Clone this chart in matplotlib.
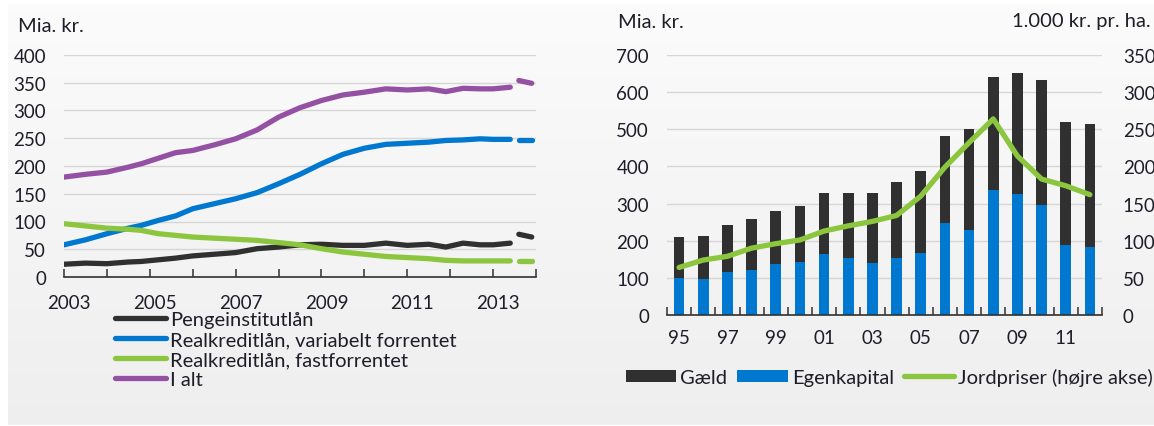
import matplotlib.pyplot as plt
import numpy as np

plt.rcParams['font.family'] = ['Lato', 'DejaVu Sans']

# left panel: loans, Mia. kr.
yr = [2003.0, 2003.5, 2004.0, 2004.5, 2004.8, 2005.2, 2005.6, 2006.0, 2006.5, 2007.0,
      2007.5, 2008.0, 2008.5, 2009.0, 2009.5, 2010.0, 2010.5, 2011.0, 2011.5, 2011.9,
      2012.3, 2012.7, 2013.0, 2013.4]
penge = [23, 25, 24, 27, 28, 31, 34, 38, 41, 44,
         51, 54, 58, 59, 57, 57, 61, 57, 59, 54,
         61, 58, 58, 61]
var = [58, 67, 78, 88, 93, 102, 110, 123, 132, 141,
       152, 168, 185, 204, 221, 232, 239, 241, 243, 246,
       247, 249, 248, 248]
fast = [96, 92, 88, 86, 84, 78, 75, 72, 70, 68,
        66, 62, 58, 51, 45, 41, 37, 35, 33, 30,
        29, 29, 29, 29]
ialt = [180, 185, 189, 198, 204, 214, 224, 228, 238, 249,
        265, 288, 305, 318, 328, 333, 339, 337, 339, 334,
        340, 339, 339, 342]
# end-of-period points shown apart (dashed stub)
yr_end = [2013.6, 2013.9]
penge_end = [77, 72]
var_end = [247, 247]
fast_end = [29, 29]
ialt_end = [354, 349]

# right panel: farm balance, Mia. kr. and land prices 1.000 kr. pr. ha.
aar = ['95', '96', '97', '98', '99', '00', '01', '02', '03',
       '04', '05', '06', '07', '08', '09', '10', '11', '12']
total = [211, 214, 243, 258, 279, 293, 329, 329, 329,
         357, 389, 483, 501, 640, 651, 634, 519, 515]
egenkapital = [100, 97, 115, 122, 136, 143, 164, 153, 140,
               153, 168, 247, 229, 336, 325, 297, 189, 182]
gaeld = [t - e for t, e in zip(total, egenkapital)]
jordpriser = [64, 74, 79, 90, 96, 101, 113, 120, 126,
              134, 160, 199, 232, 264, 214, 183, 174, 162]

c_black = '#303030'
c_blue = '#0078d0'
c_green = '#8cc63f'
c_purple = '#9450a2'
c_grid = '#d6d6d6'
c_text = '#1e1e28'
fs = 14.5
fs_tick = 13.5

W, H = 1154, 427
fig = plt.figure(figsize=(W / 100, H / 100), dpi=100)
fig.patch.set_facecolor('white')

# grey background panel with soft vertical gradient
bg = fig.add_axes([8 / W, 0.5 / H, 1 - 8 / W, (H - 5.5) / H], zorder=-10)
grad = np.linspace(0.985, 0.935, 200).reshape(-1, 1)
bg.imshow(np.dstack([grad, grad, grad]), aspect='auto', extent=[0, 1, 0, 1])
bg.axis('off')


def fig_axes(x0, x1, ytop, ybot):
    return fig.add_axes([x0 / W, 1 - ybot / H, (x1 - x0) / W, (ybot - ytop) / H])


def style(ax):
    ax.patch.set_alpha(0)
    for s in ['top', 'left', 'right']:
        ax.spines[s].set_visible(False)
    ax.spines['bottom'].set_color(c_black)
    ax.spines['bottom'].set_linewidth(1.2)
    ax.grid(axis='y', color=c_grid, linewidth=1)
    ax.set_axisbelow(True)
    ax.tick_params(axis='y', length=0, labelsize=fs_tick, labelcolor=c_text, pad=13)
    ax.tick_params(axis='x', direction='in', length=6, width=1.1, color=c_black,
                   labelsize=fs_tick, labelcolor=c_text)


# ---- left panel
ax1 = fig_axes(64, 536, 56, 278)
style(ax1)
lw = 3.8
ax1.plot(yr, penge, color=c_black, lw=lw, solid_capstyle='round', label='Pengeinstitutlån')
ax1.plot(yr, var, color=c_blue, lw=lw, solid_capstyle='round', label='Realkreditlån, variabelt forrentet')
ax1.plot(yr, fast, color=c_green, lw=lw, solid_capstyle='round', label='Realkreditlån, fastforrentet')
ax1.plot(yr, ialt, color=c_purple, lw=lw, solid_capstyle='round', label='I alt')
for vals, c in [(penge_end, c_black), (var_end, c_blue), (fast_end, c_green), (ialt_end, c_purple)]:
    ax1.plot(yr_end, vals, color=c, lw=lw, solid_capstyle='round')
ax1.set_xlim(2003, 2014)
ax1.set_ylim(0, 400)
ax1.set_yticks(range(0, 401, 50))
ax1.set_xticks(range(2003, 2015))
ax1.set_xticklabels([])
ax1.set_xticks([y + 0.12 for y in range(2003, 2014, 2)], minor=True)
ax1.set_xticklabels([str(y) for y in range(2003, 2014, 2)], minor=True)
ax1.tick_params(axis='x', which='minor', length=0, pad=12, labelsize=fs_tick, labelcolor=c_text)
fig.text(18 / W, 1 - 27 / H, 'Mia. kr.', fontsize=fs, color=c_text, va='center', ha='left')
leg1 = ax1.legend(loc='upper left', bbox_to_anchor=(115 / W, 1 - 312 / H),
                  bbox_transform=fig.transFigure, frameon=False, fontsize=fs,
                  handlelength=2.55, handletextpad=0.2, labelspacing=0.15,
                  borderpad=0, borderaxespad=0)
for t in leg1.get_texts():
    t.set_color(c_text)

# ---- right panel
ax2 = fig_axes(667, 1102, 56, 316)
style(ax2)
x = np.arange(len(aar))
ax2.bar(x, egenkapital, width=0.44, color=c_blue, label='Egenkapital', zorder=2)
ax2.bar(x, gaeld, width=0.44, bottom=egenkapital, color=c_black, label='Gæld', zorder=2)
ax2.set_xlim(-0.5, len(aar) - 0.5)
ax2.set_ylim(0, 700)
ax2.set_yticks(range(0, 701, 100))
ax2.set_xticks(np.arange(-0.5, len(aar), 1.0))
ax2.set_xticklabels([])
ax2.set_xticks(x[::2], minor=True)
ax2.set_xticklabels(aar[::2], minor=True)
ax2.tick_params(axis='x', which='minor', length=0, pad=10, labelsize=fs_tick, labelcolor=c_text)

ax3 = ax2.twinx()
ax3.plot(x, jordpriser, color=c_green, lw=3.8, solid_capstyle='round', label='Jordpriser (højre akse)', zorder=3)
ax3.set_ylim(0, 350)
ax3.set_yticks(range(0, 351, 50))
for s in ['top', 'left', 'right', 'bottom']:
    ax3.spines[s].set_visible(False)
ax3.tick_params(axis='y', length=0, labelsize=fs_tick, labelcolor=c_text, pad=15)

fig.text(618 / W, 1 - 22 / H, 'Mia. kr.', fontsize=fs, color=c_text, va='center', ha='left')
fig.text(1151 / W, 1 - 22 / H, '1.000 kr. pr. ha.', fontsize=fs, color=c_text, va='center', ha='right')

h_b, l_b = ax2.get_legend_handles_labels()
h_l, l_l = ax3.get_legend_handles_labels()
leg2 = ax3.legend([h_b[1], h_b[0], h_l[0]], [l_b[1], l_b[0], l_l[0]],
                  loc='center left', bbox_to_anchor=(626 / W, 1 - 378 / H),
                  bbox_transform=fig.transFigure, ncol=3, frameon=False, fontsize=fs,
                  handlelength=2.5, handleheight=0.55, handletextpad=0.2,
                  columnspacing=0.5, borderpad=0, borderaxespad=0)
for t in leg2.get_texts():
    t.set_color(c_text)

fig.savefig('out.png', dpi=100)
